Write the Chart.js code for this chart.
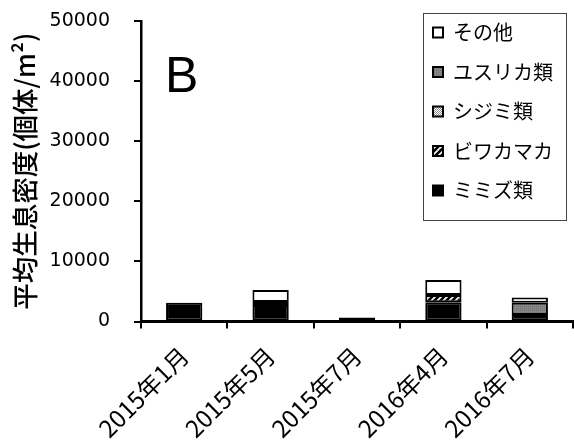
<!DOCTYPE html>
<html>
<head>
<meta charset="utf-8">
<script src="https://cdn.jsdelivr.net/npm/chart.js@4/dist/chart.umd.min.js"></script>
<style>
  html, body { margin: 0; padding: 0; background: #ffffff; }
  #wrap { width: 574px; height: 442px; }
</style>
</head>
<body>
<div id="wrap"><canvas id="c" width="574" height="442"></canvas></div>
<script>
// Survey dates
const categories = ['2015年1月', '2015年5月', '2015年7月', '2016年4月', '2016年7月'];

// Mean density per taxon (individuals / m²), stacked bottom to top
const mimizu     = [3100, 2750, 650, 3200, 1100]; // ミミズ類
const biwakamaka = [0, 0, 0, 1200, 0];            // ビワカマカ
const shijimi    = [0, 500, 0, 0, 0];             // シジミ類
const yusurika   = [0, 0, 0, 0, 2000];            // ユスリカ類
const sonota     = [0, 2000, 0, 2500, 900];       // その他

const seriesNames = ['ミミズ類', 'ビワカマカ', 'シジミ類', 'ユスリカ類', 'その他'];
const yTicks = [0, 10000, 20000, 30000, 40000, 50000];

const FONT = '"DejaVu Sans", "Noto Sans CJK JP", sans-serif';
const JP = '"Noto Sans CJK JP", sans-serif';

// --- fill patterns -------------------------------------------------------
const helperCtx = document.createElement('canvas').getContext('2d');
function makePattern(w, h, paint) {
  const t = document.createElement('canvas');
  t.width = w; t.height = h;
  paint(t.getContext('2d'), w, h);
  return helperCtx.createPattern(t, 'repeat');
}
const hatchFill = makePattern(6, 6, (g, w, h) => {
  g.fillStyle = '#000'; g.fillRect(0, 0, w, h);
  g.strokeStyle = '#fff'; g.lineWidth = 1.6;
  g.beginPath();
  g.moveTo(-1, h + 1); g.lineTo(w + 1, -1);
  g.moveTo(-1 - w, h + 1); g.lineTo(1, -1);
  g.moveTo(w - 1, h + 1); g.lineTo(2 * w + 1, -1);
  g.stroke();
});
const checkFill = makePattern(2, 2, (g) => {
  g.fillStyle = '#ffffff'; g.fillRect(0, 0, 2, 2);
  g.fillStyle = '#8c8c8c'; g.fillRect(0, 0, 1, 1); g.fillRect(1, 1, 1, 1);
});
const dotGreyFill = makePattern(2, 2, (g) => {
  g.fillStyle = '#878787'; g.fillRect(0, 0, 2, 2);
  g.fillStyle = '#707070'; g.fillRect(0, 0, 1, 1);
});

const fills = ['#000000', hatchFill, checkFill, dotGreyFill, '#ffffff'];
const values = [mimizu, biwakamaka, shijimi, yusurika, sonota];

const datasets = seriesNames.map((name, i) => ({
  label: name,
  data: values[i],
  backgroundColor: fills[i],
  borderColor: '#000000',
  borderWidth: 2,
  borderSkipped: false,
  barPercentage: 0.42,
  categoryPercentage: 1.0
}));

// Places the legend in the upper right of the plot and frames it
const legendFrame = { left: 423, top: 13, right: 566, bottom: 220 };
const legendPlacer = {
  id: 'legendPlacer',
  afterLayout(chart) {
    const lg = chart.legend;
    const pad = lg.options.labels.padding;
    lg.left = legendFrame.left + 10 - pad;
    lg.top = legendFrame.top + 9.5 - pad;
    lg.width = 200;
    lg.height = 400;
    lg.right = lg.left + lg.width;
    lg.bottom = lg.top + lg.height;
  },
  afterDraw(chart) {
    const ctx = chart.ctx;
    ctx.save();
    ctx.strokeStyle = '#444444';
    ctx.lineWidth = 1;
    ctx.strokeRect(legendFrame.left + 0.5, legendFrame.top + 0.5,
      legendFrame.right - legendFrame.left, legendFrame.bottom - legendFrame.top);
    // panel letter
    ctx.fillStyle = '#000000';
    ctx.font = '50px "Liberation Sans", sans-serif';
    ctx.textBaseline = 'alphabetic';
    ctx.textAlign = 'left';
    ctx.fillText('B', 165, 92);
    ctx.restore();
  }
};

new Chart(document.getElementById('c'), {
  type: 'bar',
  data: { labels: categories, datasets },
  options: {
    responsive: false,
    animation: false,
    devicePixelRatio: 1,
    layout: { padding: { top: 21, right: 1, left: 0, bottom: 0 } },
    plugins: {
      tooltip: { enabled: false },
      legend: {
        position: 'chartArea',
        fullSize: false,
        align: 'start',
        reverse: true,
        labels: {
          color: '#000000',
          font: { family: JP, size: 20 },
          boxWidth: 10,
          boxHeight: 10,
          padding: 19.5
        }
      }
    },
    scales: {
      x: {
        stacked: true,
        grid: { display: true, drawOnChartArea: false, drawTicks: true, tickLength: 7, color: '#000000', lineWidth: 2, offset: true },
        border: { display: true, color: '#000000', width: 3 },
        ticks: {
          color: '#000000',
          font: { family: JP, size: 24 },
          minRotation: 45,
          maxRotation: 45,
          padding: 13
        },
        afterFit(scale) { scale.height = 120.5; }
      },
      y: {
        stacked: true,
        min: 0,
        max: 50000,
        afterBuildTicks(scale) { scale.ticks = yTicks.map(v => ({ value: v })); },
        grid: { display: true, drawOnChartArea: false, drawTicks: true, tickLength: 7, color: '#000000', lineWidth: 2 },
        border: { display: true, color: '#000000', width: 2.5 },
        ticks: {
          color: '#000000',
          font: { family: FONT, size: 19 },
          padding: 24,
          callback: (v) => String(v)
        },
        title: {
          display: true,
          text: '平均生息密度(個体/m²)',
          color: '#000000',
          font: { family: JP, size: 26.5, weight: '500' },
          padding: { top: 9, bottom: 0 }
        },
        afterFit(scale) {
          scale.width = 141;
          scale.paddingTop = 0;
          scale.paddingBottom = 0;
        }
      }
    }
  },
  plugins: [legendPlacer]
});
</script>
</body>
</html>
